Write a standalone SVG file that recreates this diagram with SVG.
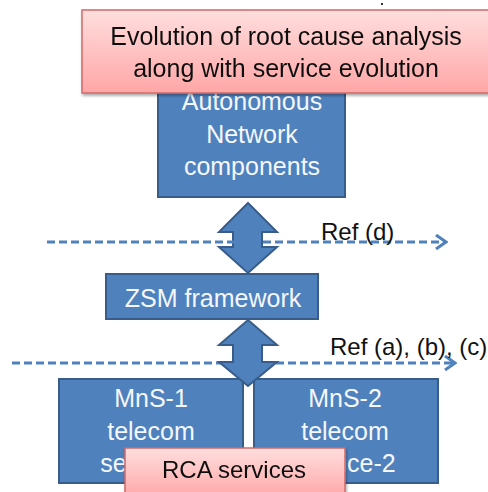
<svg xmlns="http://www.w3.org/2000/svg" width="488" height="492" viewBox="0 0 488 492">
  <style>
    .blue { fill: #4f81bd; stroke: #385d8a; stroke-width: 2; }
    .pink { fill: url(#pinkGrad); stroke: #d06a6a; stroke-width: 1.5; }
    .wt { font-family: "Liberation Sans", Arial, sans-serif; font-size: 25px; fill: #f4f7fb; text-anchor: middle; }
    .dk { font-family: "Liberation Sans", Arial, sans-serif; font-size: 25px; fill: #111; text-anchor: middle; }
    .ref { font-family: "Liberation Sans", Arial, sans-serif; font-size: 24px; fill: #111; }
    .dash { fill: none; stroke: #4f81bd; stroke-width: 3; stroke-dasharray: 8 4; marker-end: url(#chev); }
  </style>
  <defs>
    <linearGradient id="pinkGrad" x1="0" y1="0" x2="0" y2="1">
      <stop offset="0" stop-color="#ffdede"/>
      <stop offset="1" stop-color="#ffa6a6"/>
    </linearGradient>
    <marker id="chev" markerUnits="userSpaceOnUse" viewBox="0 0 14 16" markerWidth="14" markerHeight="16" refX="12" refY="8" orient="auto">
      <path d="M2,1 L12,8 L2,15" fill="none" stroke="#4f81bd" stroke-width="3"/>
    </marker>
    <filter id="shadow" x="-10%" y="-10%" width="130%" height="140%">
      <feGaussianBlur in="SourceAlpha" stdDeviation="1.5"/>
      <feOffset dx="1" dy="2" result="b"/>
      <feComponentTransfer><feFuncA type="linear" slope="0.35"/></feComponentTransfer>
      <feMerge><feMergeNode/><feMergeNode in="SourceGraphic"/></feMerge>
    </filter>
  </defs>

  <!-- small mark near the top edge -->
  <rect x="381" y="3" width="2" height="2" fill="#333"/>

  <!-- Autonomous Network components -->
  <g id="autonomous">
    <rect class="blue" x="158" y="80" width="187" height="117"/>
    <text class="wt" x="252" y="110">Autonomous</text>
    <text class="wt" x="252" y="143">Network</text>
    <text class="wt" x="252" y="175">components</text>
  </g>

  <!-- ZSM framework -->
  <g id="zsm">
    <rect class="blue" x="106" y="274" width="212" height="45"/>
    <text class="wt" x="213" y="307">ZSM framework</text>
  </g>

  <!-- Management services -->
  <g id="mns1">
    <rect class="blue" x="59" y="379" width="184" height="104"/>
    <text class="wt" x="151" y="407">MnS-1</text>
    <text class="wt" x="151" y="440">telecom</text>
    <text class="wt" x="151" y="472">service-1</text>
  </g>
  <g id="mns2">
    <rect class="blue" x="254" y="379" width="184" height="104"/>
    <text class="wt" x="345" y="407">MnS-2</text>
    <text class="wt" x="345" y="440">telecom</text>
    <text class="wt" x="345" y="472">service-2</text>
  </g>

  <g id="connectors">
    <!-- upper double arrow -->
    <path class="blue" d="M248,203 L277,232 L262,232 L262,247 L277,247 L248,273 L219,247 L233,247 L233,232 L219,232 Z"/>
    <path class="dash" d="M47,242 H446"/>
    <!-- lower double arrow -->
    <path class="dash" d="M12,363 H455"/>
    <path class="blue" d="M248,320 L277,345 L262,345 L262,362 L277,362 L248,386 L219,362 L233,362 L233,345 L219,345 Z"/>
  </g>

  <text class="ref" x="321" y="240">Ref (d)</text>
  <text class="ref" x="330" y="355">Ref (a), (b), (c)</text>

  <!-- title banner -->
  <g id="title" filter="url(#shadow)">
    <rect class="pink" x="82" y="10" width="410" height="83"/>
    <text class="dk" x="286" y="45">Evolution of root cause analysis</text>
    <text class="dk" x="286" y="77">along with service evolution</text>
  </g>

  <!-- RCA services -->
  <g id="rca" filter="url(#shadow)">
    <rect class="pink" x="125" y="448" width="220" height="50"/>
    <text class="dk" x="234" y="478" style="font-size:24px">RCA services</text>
  </g>
</svg>
